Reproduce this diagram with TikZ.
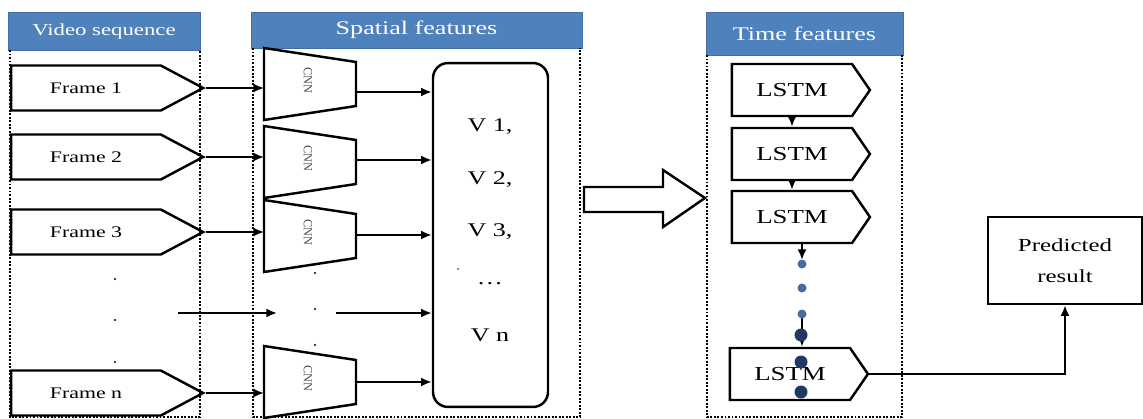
\documentclass[tikz,border=0pt]{standalone}
\usepackage{fontspec}
\setmainfont[FakeStretch=1.35]{Liberation Serif}
\newfontfamily\cnnfont{Liberation Serif}
\usetikzlibrary{shapes.symbols}
\usetikzlibrary{calc}
\usetikzlibrary{arrows.meta}

\definecolor{hdrblue}{RGB}{79,129,189}
\definecolor{dotblue}{RGB}{72,108,160}
\definecolor{dotnavy}{RGB}{31,56,100}

\tikzset{
  hdr/.style={draw=hdrblue!85!black, fill=hdrblue, text=white, inner sep=0pt,
    font=\fontsize{11}{13}\selectfont},
  sep/.style={line width=1.3pt, dash pattern=on 1.1pt off 0.9pt},
  framebox/.style={draw, line width=1.4pt, signal, signal to=east,
    signal pointer angle=56, minimum width=3.84cm, minimum height=0.9cm,
    inner sep=0pt, font=\fontsize{9.2}{11}\selectfont},
  lstmbox/.style={draw, line width=1.4pt, signal, signal to=east,
    signal pointer angle=111, minimum width=2.76cm, minimum height=1.04cm,
    inner sep=0pt, font=\fontsize{11.3}{13}\selectfont},
  cnnbox/.style={line width=1.4pt, line join=miter},
  cnnlabel/.style={rotate=-90, text=black!70, font=\cnnfont\fontsize{7}{8}\selectfont},
  vtext/.style={font=\fontsize{11}{13}\selectfont},
  flow/.style={-{Latex[length=6pt,width=5pt]}, line width=1.1pt},
}

\begin{document}
\begin{tikzpicture}[x=0.02cm, y=-0.02cm]
    \useasboundingbox (0,0) rectangle (1143,419);

    % column headers
    \node[hdr, minimum width=3.84cm, minimum height=0.76cm, font=\fontsize{9.6}{12}\selectfont] (hvid) at (104,31) {Video sequence};
    \node[hdr, minimum width=6.62cm, minimum height=0.72cm] (hspa) at (416.5,30) {Spatial features};
    \node[hdr, minimum width=3.94cm, minimum height=0.86cm] (htime) at (804.5,33.5) {Time features};

    % dotted column borders
    \draw[sep] (10,50) -- (10,417) -- (200,417) -- (200,50);
    \draw[sep] (253,48) -- (253,417) -- (580,417) -- (580,48);
    \draw[sep] (707,55) -- (707,417) -- (902,417) -- (902,55);

    % feature vector box
    \node[draw, line width=1.4pt, rounded corners=0.3cm, minimum width=2.3cm, minimum height=6.88cm] (vec) at (490.5,235) {};
    \node[vtext] (v1) at (490,127) {V 1,};
    \node[vtext] (v2) at (490,180) {V 2,};
    \node[vtext] (v3) at (490,232) {V 3,};
    \node[vtext] (vdots) at (490,284) {…};
    \node[vtext] (vn) at (490,335) {V n};
    \fill[dotblue] (458,269) circle (0.6pt);

    % frames -> CNN -> vector
    \foreach \n/\fy/\cy/\oy in {1/88/84/92, 2/157/162/160, 3/232/236/235, n/393/382/382} {
        \node[framebox] (f\n) at (86,\fy) {Frame \n};
        \coordinate (c\n) at (310,\cy);
        \draw[cnnbox] ($(c\n)+(-46,-36)$) -- ($(c\n)+(46,-22)$) -- ($(c\n)+(46,22)$) -- ($(c\n)+(-46,36)$) -- cycle;
        \node[cnnlabel] (cl\n) at ($(c\n)+(-2,-4)$) {CNN};
        \coordinate (c\n-w) at ($(c\n)+(-46,0)$);
        \coordinate (c\n-e) at (356,\oy);
        \draw[flow] (f\n.east) -- (f\n.east -| c\n-w);
        \draw[flow] (c\n-e) -- (c\n-e -| vec.west);
    }

    % elided rows
    \foreach \y in {279,320,362} \fill (115,\y) circle (0.6pt);
    \foreach \y in {273,309,345} \fill (315,\y) circle (0.6pt);
    \coordinate (mid-a) at (178,313);
    \coordinate (mid-b) at (277,313);
    \coordinate (mid-c) at (336,313);
    \draw[flow] (mid-a) -- (mid-b);
    \draw[flow] (mid-c) -- (mid-c -| vec.west);

    % hand-over to the time column
    \draw[line width=1.4pt, line join=miter] (584,187) -- (663,187) -- (663,170) -- (705,198) -- (663,227) -- (663,212) -- (584,212) -- cycle;

    % LSTM chain
    \foreach \n/\y in {1/90, 2/154, 3/217} \node[lstmbox] (l\n) at (792,\y) {LSTM};
    \node[lstmbox] (l4) at (790,374) {LSTM};
    \draw[flow] (l1.south) -- (l2.north);
    \draw[flow] (l2.south) -- (l3.north);
    \coordinate (d1) at (802,264);
    \coordinate (d2) at (802,288);
    \coordinate (d3) at (802,314);
    \draw[flow] (l3.south -| d1) -- ($(d1)+(0,-4)$);
    \draw[flow] (d3) -- (d3 |- l4.north);
    \foreach \d in {d1,d2,d3} \fill[dotblue] (\d) circle (4.5);
    \foreach \y in {335,362,392} \fill[dotnavy] (801,\y) circle (6.5);

    % output
    \node[draw, line width=1.4pt, minimum width=3.08cm, minimum height=1.74cm, align=center,
      font=\fontsize{10.5}{18}\selectfont] (pred) at (1065,260.5) {Predicted\\result};
    \draw[flow] (l4.east) -| (pred.south);

\end{tikzpicture}
\end{document}
